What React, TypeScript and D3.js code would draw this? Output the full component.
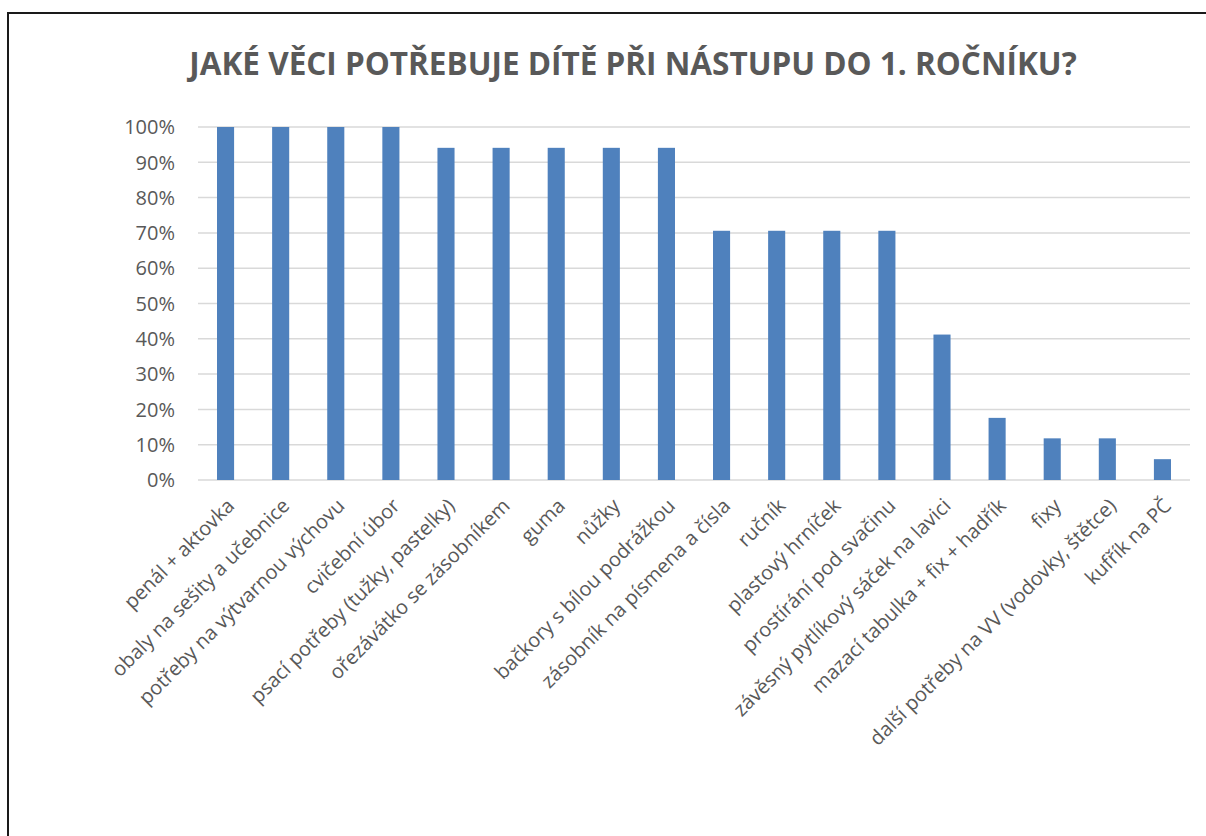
import React from "react";
import * as d3 from "d3";

const title = "JAKÉ VĚCI POTŘEBUJE DÍTĚ PŘI NÁSTUPU DO 1. ROČNÍKU?";

const categories = [
  "penál + aktovka",
  "obaly na sešity a učebnice",
  "potřeby na výtvarnou výchovu",
  "cvičební úbor",
  "psací potřeby (tužky, pastelky)",
  "ořezávátko se zásobníkem",
  "guma",
  "nůžky",
  "bačkory s bílou podrážkou",
  "zásobník na písmena a čísla",
  "ručník",
  "plastový hrníček",
  "prostírání pod svačinu",
  "závěsný pytlíkový sáček na lavici",
  "mazací tabulka + fix + hadřík",
  "fixy",
  "další potřeby na VV (vodovky, štětce)",
  "kufřík na PČ",
];

const values = [
  1.0, 1.0, 1.0, 1.0, 0.941, 0.941, 0.941, 0.941, 0.941, 0.706, 0.706, 0.706,
  0.706, 0.412, 0.176, 0.118, 0.118, 0.059,
];

const yTicks = [0, 0.1, 0.2, 0.3, 0.4, 0.5, 0.6, 0.7, 0.8, 0.9, 1.0];

const FONT = "'Open Sans', 'Liberation Sans', sans-serif";
const TEXT = "#595959";

export default function App() {
  const W = 1206;
  const H = 836;
  const left = 198;
  const right = 1190;
  const top = 127;
  const bottom = 480;

  const x = d3
    .scaleBand<string>()
    .domain(categories)
    .range([left, right])
    .paddingInner(0.69)
    .paddingOuter(0.345);
  const y = d3.scaleLinear().domain([0, 1]).range([bottom, top]);
  const fmt = d3.format(".0%");

  return (
    <svg
      width={W}
      height={H}
      style={{ position: "absolute", left: 0, top: 0, display: "block" }}
    >
      <rect x={0} y={0} width={W} height={H} fill="#fff" />
      <rect
        x={8}
        y={13}
        width={1400}
        height={1000}
        fill="none"
        stroke="#1a1a1a"
        strokeWidth={2}
      />
      <text
        x={633}
        y={75}
        textAnchor="middle"
        fontFamily={FONT}
        fontWeight={700}
        fontSize={31.5}
        fill={TEXT}
      >
        {title}
      </text>
      {yTicks.map((t) => (
        <g key={t}>
          <line
            x1={left}
            x2={right}
            y1={y(t)}
            y2={y(t)}
            stroke="#d9d9d9"
            strokeWidth={1.5}
          />
          <text
            x={175}
            y={y(t)}
            dy="0.36em"
            textAnchor="end"
            fontFamily={FONT}
            fontSize={20}
            fill={TEXT}
          >
            {fmt(t)}
          </text>
        </g>
      ))}
      {categories.map((c, i) => (
        <rect
          key={c}
          x={x(c)}
          y={y(values[i])}
          width={x.bandwidth()}
          height={bottom - y(values[i])}
          fill="#4f81bd"
        />
      ))}
      {categories.map((c) => {
        const cx = (x(c) as number) + x.bandwidth() / 2;
        return (
          <text
            key={c}
            transform={`translate(${cx},${497}) rotate(-45)`}
            dy="0.71em"
            textAnchor="end"
            fontFamily={FONT}
            fontSize={20}
            fill={TEXT}
          >
            {c}
          </text>
        );
      })}
    </svg>
  );
}
